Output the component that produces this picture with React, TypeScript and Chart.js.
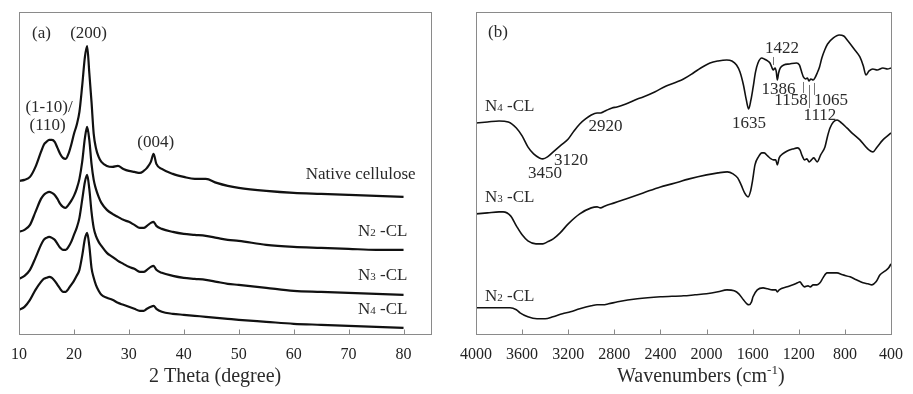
import React, { useEffect, useRef } from "react";
import { Chart, registerables } from "chart.js";

Chart.register(...registerables);

const FONT = "'Liberation Serif', 'Times New Roman', serif";

// ---------- (a) XRD ----------
const xrdAngles = [10, 11, 12, 13, 14, 14.5, 15, 15.5, 16, 16.5, 17, 17.5, 18, 18.5, 19, 19.5, 20, 20.5, 21, 21.5, 22, 22.4, 22.8, 23.2, 23.6, 24, 24.5, 25, 26, 27, 28, 29, 30, 31, 32, 32.7, 33.3, 34, 34.5, 35, 36, 38, 40, 42, 44, 46, 48, 50, 55, 60, 65, 70, 75, 80];
const xrdNative = [153, 154, 157, 167, 182, 189, 192, 194, 194, 192, 186, 180, 176, 175, 180, 189, 200, 209, 222, 248, 277, 288, 261, 232, 200, 186, 177, 172, 168, 167, 168, 165, 163, 162, 161, 163, 166, 172, 180, 170, 165, 160, 157, 155, 155, 151, 148, 146, 143, 141, 140, 139, 138, 137];
const xrdN2 = [102, 104, 109, 122, 135, 139, 141, 142, 141, 139, 135, 130, 127, 126, 129, 133, 138, 145, 155, 172, 196, 207, 194, 170, 154, 145, 137, 131, 124, 120, 117, 114, 112, 109, 106, 106, 108, 111, 112, 108, 105, 102, 100, 99, 98, 96, 94, 93, 89, 87, 86, 85, 84, 84];
const xrdN3 = [55, 58, 64, 76, 89, 94, 96, 97, 96, 94, 90, 86, 84, 84, 87, 92, 99, 106, 116, 134, 152, 159, 145, 122, 106, 98, 92, 88, 81, 77, 73, 70, 67, 65, 62, 62, 64, 67, 68, 64, 61, 58, 56, 55, 54, 52, 50, 49, 46, 43, 42, 41, 40, 39];
const xrdN4 = [24, 27, 34, 44, 52, 55, 56, 57, 56, 53, 49, 45, 42, 42, 45, 49, 53, 58, 64, 78, 95, 101, 88, 66, 56, 49, 43, 39, 36, 34, 31, 29, 27, 25, 23, 23, 25, 27, 28, 25, 22, 20, 19, 18, 17, 16, 15, 14, 12, 10, 9, 8, 7, 6];
const xrdTicks = [10, 20, 30, 40, 50, 60, 70, 80];

// ---------- (b) FTIR ----------
const n4Wn = [4000, 3900, 3800, 3720, 3650, 3600, 3550, 3500, 3450, 3420, 3380, 3330, 3290, 3260, 3200, 3150, 3100, 3050, 3000, 2950, 2920, 2880, 2820, 2777, 2700, 2600, 2550, 2450, 2350, 2259, 2200, 2115, 2050, 1970, 1900, 1825, 1780, 1740, 1710, 1680, 1655, 1635, 1615, 1597, 1575, 1554, 1520, 1500, 1470, 1450, 1435, 1422, 1405, 1395, 1386, 1375, 1360, 1330, 1280, 1220, 1195, 1175, 1160, 1140, 1125, 1112, 1095, 1075, 1060, 1040, 1020, 1000, 975, 950, 900, 850, 810, 780, 720, 670, 640, 618, 590, 557, 520, 470, 430, 400];
const n4T = [211, 212, 213, 212, 206, 198, 187, 180, 176, 175, 177, 182, 186, 189, 195, 203, 210, 215, 219, 221, 221, 223, 226, 227, 230, 235, 237, 242, 248, 252, 255, 261, 266, 271, 273, 274, 273, 269, 262, 249, 234, 225, 234, 246, 262, 271, 276, 275, 273, 271, 267, 264, 266, 262, 254, 261, 266, 269, 270, 271, 269, 262, 257, 255, 256, 253, 255, 254, 256, 261, 267, 276, 284, 290, 296, 299, 298, 294, 285, 277, 268, 259, 263, 265, 264, 266, 265, 266];
const n3Wn = [4000, 3900, 3800, 3765, 3700, 3650, 3600, 3550, 3480, 3420, 3380, 3330, 3270, 3200, 3100, 3000, 2950, 2920, 2880, 2800, 2700, 2550, 2400, 2300, 2150, 2000, 1900, 1820, 1770, 1730, 1700, 1670, 1640, 1620, 1600, 1580, 1550, 1520, 1500, 1470, 1440, 1420, 1400, 1386, 1370, 1340, 1300, 1250, 1210, 1190, 1170, 1150, 1130, 1110, 1090, 1070, 1040, 1010, 973, 950, 929, 900, 868, 830, 783, 730, 670, 610, 556, 520, 470, 430, 400];
const n3T = [120, 121, 122, 122, 118, 108, 99, 93, 90, 90, 92, 95, 101, 110, 120, 126, 127, 126, 128, 131, 135, 141, 147, 150, 155, 159, 161, 162, 160, 156, 149, 141, 137, 142, 154, 169, 177, 181, 181, 178, 175, 174, 174, 169, 176, 180, 183, 185, 186, 184, 178, 174, 175, 172, 174, 176, 172, 179, 187, 198, 206, 212, 214, 211, 206, 200, 194, 186, 182, 187, 194, 198, 201];
const n2Wn = [4000, 3900, 3800, 3705, 3650, 3618, 3550, 3471, 3400, 3332, 3250, 3180, 3100, 3000, 2950, 2900, 2850, 2770, 2600, 2400, 2200, 2100, 2000, 1900, 1823, 1760, 1720, 1680, 1650, 1632, 1610, 1597, 1560, 1510, 1470, 1430, 1400, 1386, 1370, 1300, 1250, 1210, 1190, 1170, 1150, 1120, 1100, 1075, 1042, 1016, 990, 955, 910, 869, 820, 755, 700, 643, 600, 565, 530, 495, 450, 420, 400];
const n2T = [26, 26, 26, 26, 24, 21, 17, 15, 15, 17, 20, 22, 25, 28, 29, 29, 30, 32, 35, 37, 38, 39, 40, 42, 44, 43, 40, 34, 30, 29, 32, 37, 44, 46, 45, 44, 44, 42, 44, 47, 49, 51, 52, 49, 47, 48, 47, 49, 49, 51, 56, 61, 61, 61, 59, 57, 54, 51, 50, 49, 52, 59, 63, 66, 70];
const ftirTicks = [4000, 3600, 3200, 2800, 2400, 2000, 1600, 1200, 800, 400];

type Label = { x: number; y: number; text: string; sub?: string; rest?: string; align: CanvasTextAlign };
type Leader = { x: number; y1: number; y2: number };
type TitlePart = { t: string; size: number; dy?: number };

const xrdLabels: Label[] = [
  { x: 12.37, y: 296, text: "(a)", align: "left" },
  { x: 22.67, y: 296, text: "(200)", align: "center" },
  { x: 15.47, y: 222, text: "(1-10)/", align: "center" },
  { x: 15.2, y: 204, text: "(110)", align: "center" },
  { x: 34.88, y: 187, text: "(004)", align: "center" },
  { x: 82.2, y: 155, text: "Native cellulose", align: "right" },
  { x: 80.7, y: 98, text: "N", sub: "2", rest: " -CL", align: "right" },
  { x: 80.7, y: 54, text: "N", sub: "3", rest: " -CL", align: "right" },
  { x: 80.7, y: 20, text: "N", sub: "4", rest: " -CL", align: "right" },
];

const ftirLabels: Label[] = [
  { x: 3896, y: 297, text: "(b)", align: "left" },
  { x: 3922, y: 223, text: "N", sub: "4", rest: " -CL", align: "left" },
  { x: 3922, y: 132, text: "N", sub: "3", rest: " -CL", align: "left" },
  { x: 3922, y: 33, text: "N", sub: "2", rest: " -CL", align: "left" },
  { x: 3401, y: 156, text: "3450", align: "center" },
  { x: 3176, y: 169, text: "3120", align: "center" },
  { x: 2877, y: 203, text: "2920", align: "center" },
  { x: 1632, y: 206, text: "1635", align: "center" },
  { x: 1346, y: 281, text: "1422", align: "center" },
  { x: 1376, y: 240, text: "1386", align: "center" },
  { x: 1267, y: 229, text: "1158", align: "center" },
  { x: 921, y: 229, text: "1065", align: "center" },
  { x: 1016, y: 214, text: "1112", align: "center" },
];

const ftirLeaders: Leader[] = [
  { x: 1424, y1: 277, y2: 269 },
  { x: 1163, y1: 252, y2: 241 },
  { x: 1111, y1: 249, y2: 226 },
  { x: 1068, y1: 251, y2: 239 },
];

const xrdTitle: TitlePart[] = [{ t: "2 Theta (degree)", size: 20 }];
const ftirTitle: TitlePart[] = [
  { t: "Wavenumbers (cm", size: 20 },
  { t: "-1", size: 13, dy: -8 },
  { t: ")", size: 20 },
];

function drawLabel(ctx: CanvasRenderingContext2D, l: Label, px: number, py: number) {
  ctx.textBaseline = "alphabetic";
  ctx.font = `17px ${FONT}`;
  if (!l.sub) {
    ctx.textAlign = l.align;
    ctx.fillText(l.text, px, py);
    return;
  }
  const mainW = ctx.measureText(l.text).width;
  const rest = l.rest || "";
  const restW = ctx.measureText(rest).width;
  ctx.font = `11px ${FONT}`;
  const subW = ctx.measureText(l.sub).width;
  const total = mainW + subW + restW;
  const x0 = l.align === "right" ? px - total : l.align === "center" ? px - total / 2 : px;
  ctx.textAlign = "left";
  ctx.font = `17px ${FONT}`;
  ctx.fillText(l.text, x0, py);
  ctx.font = `11px ${FONT}`;
  ctx.fillText(l.sub, x0 + mainW, py);
  ctx.font = `17px ${FONT}`;
  ctx.fillText(rest, x0 + mainW + subW, py);
}

function decorPlugin(labels: Label[], leaders: Leader[], title: TitlePart[], titleX: number) {
  return {
    id: "decor",
    afterDraw(chart: any) {
      const ctx: CanvasRenderingContext2D = chart.ctx;
      const { left, right, top, bottom } = chart.chartArea;
      const xs = chart.scales.x;
      const ys = chart.scales.y;
      ctx.save();
      // frame
      ctx.strokeStyle = "#8a8a8a";
      ctx.lineWidth = 1;
      const l0 = Math.round(left) + 0.5;
      const t0 = Math.round(top) + 0.5;
      const r0 = Math.round(right) + 0.5;
      const b0 = Math.round(bottom) + 0.5;
      ctx.strokeRect(l0, t0, r0 - l0, b0 - t0);
      // inward tick marks
      ctx.beginPath();
      for (const tk of xs.ticks) {
        const px = Math.round(xs.getPixelForValue(tk.value)) + 0.5;
        ctx.moveTo(px, b0);
        ctx.lineTo(px, b0 - 5);
      }
      ctx.stroke();
      // leader lines
      ctx.strokeStyle = "#777";
      ctx.beginPath();
      for (const ld of leaders) {
        const px = Math.round(xs.getPixelForValue(ld.x)) + 0.5;
        ctx.moveTo(px, ys.getPixelForValue(ld.y1));
        ctx.lineTo(px, ys.getPixelForValue(ld.y2));
      }
      ctx.stroke();
      // labels
      ctx.fillStyle = "#2a2a2a";
      for (const l of labels) {
        drawLabel(ctx, l, xs.getPixelForValue(l.x), ys.getPixelForValue(l.y));
      }
      // axis title
      let total = 0;
      for (const p of title) {
        ctx.font = `${p.size}px ${FONT}`;
        total += ctx.measureText(p.t).width;
      }
      let x = xs.getPixelForValue(titleX) - total / 2;
      const base = chart.height - 12;
      ctx.textAlign = "left";
      ctx.textBaseline = "alphabetic";
      for (const p of title) {
        ctx.font = `${p.size}px ${FONT}`;
        ctx.fillText(p.t, x, base + (p.dy || 0));
        x += ctx.measureText(p.t).width;
      }
      ctx.restore();
    },
  };
}

function lineDs(xs: number[], ys: number[], width: number) {
  return {
    data: xs.map((x, i) => ({ x, y: ys[i] })),
    borderColor: "#111",
    borderWidth: width,
    pointRadius: 0,
    fill: false,
    cubicInterpolationMode: "monotone" as const,
  };
}

function xAxis(min: number, max: number, ticks: number[], reverse: boolean) {
  return {
    type: "linear",
    min,
    max,
    reverse,
    afterBuildTicks: (axis: any) => {
      axis.ticks = ticks.map((v) => ({ value: v }));
    },
    afterFit: (axis: any) => {
      axis.paddingLeft = 0;
      axis.paddingRight = 0;
    },
    ticks: {
      autoSkip: false,
      maxRotation: 0,
      padding: 11,
      color: "#222",
      font: { family: FONT, size: 16 },
      callback: (v: any) => String(v),
    },
    grid: { display: false, drawTicks: false },
    border: { display: false },
  };
}

function xrdConfig(): any {
  return {
    type: "line",
    data: {
      datasets: [
        lineDs(xrdAngles, xrdNative, 2.2),
        lineDs(xrdAngles, xrdN2, 2.2),
        lineDs(xrdAngles, xrdN3, 2.2),
        lineDs(xrdAngles, xrdN4, 2.2),
      ],
    },
    options: {
      animation: false,
      responsive: false,
      devicePixelRatio: 1,
      events: [],
      layout: { padding: { left: 19, top: 12, right: 24, bottom: 19 } },
      plugins: { legend: { display: false }, tooltip: { enabled: false } },
      scales: {
        x: xAxis(10, 85, xrdTicks, false),
        y: { display: false, min: 0, max: 322 },
      },
    },
    plugins: [decorPlugin(xrdLabels, [], xrdTitle, 45.7)],
  };
}

function ftirConfig(): any {
  return {
    type: "line",
    data: {
      datasets: [lineDs(n4Wn, n4T, 1.6), lineDs(n3Wn, n3T, 1.6), lineDs(n2Wn, n2T, 1.6)],
    },
    options: {
      animation: false,
      responsive: false,
      devicePixelRatio: 1,
      events: [],
      layout: { padding: { left: 21, top: 12, right: 22, bottom: 19 } },
      plugins: { legend: { display: false }, tooltip: { enabled: false } },
      scales: {
        x: xAxis(400, 4000, ftirTicks, true),
        y: { display: false, min: 0, max: 322 },
      },
    },
    plugins: [decorPlugin(ftirLabels, ftirLeaders, ftirTitle, 2050)],
  };
}

export default function App() {
  const leftRef = useRef<HTMLCanvasElement>(null);
  const rightRef = useRef<HTMLCanvasElement>(null);
  useEffect(() => {
    const c1 = new Chart(leftRef.current as HTMLCanvasElement, xrdConfig());
    const c2 = new Chart(rightRef.current as HTMLCanvasElement, ftirConfig());
    return () => {
      c1.destroy();
      c2.destroy();
    };
  }, []);
  return (
    <div style={{ position: "absolute", left: 0, top: 0, width: 913, height: 394, background: "#fff" }}>
      <canvas ref={leftRef} width={455} height={394} style={{ position: "absolute", left: 0, top: 0 }} />
      <canvas ref={rightRef} width={458} height={394} style={{ position: "absolute", left: 455, top: 0 }} />
    </div>
  );
}
